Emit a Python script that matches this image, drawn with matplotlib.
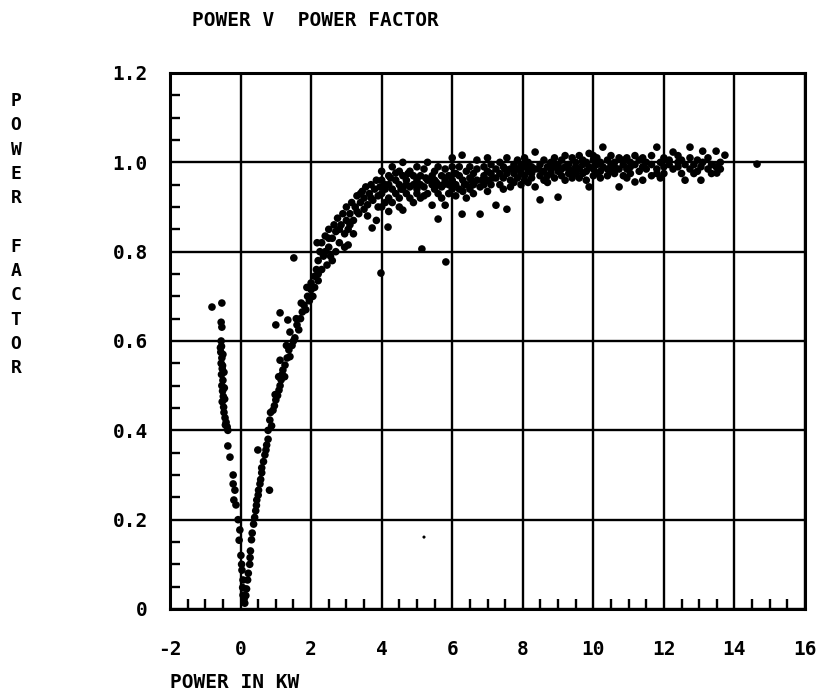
import matplotlib
matplotlib.use("Agg")
import matplotlib.pyplot as plt
from matplotlib.ticker import MultipleLocator

# left branch (negative power, falling power factor)
left_x = [-0.81, -0.53, -0.55, -0.53,
          -0.55, -0.54, -0.56, -0.53, -0.55, -0.52, -0.54, -0.50, -0.53, -0.51,
          -0.49, -0.52, -0.48, -0.47, -0.44, -0.41, -0.38, -0.43, -0.36, -0.50,
          -0.47, -0.45, -0.57, -0.51, -0.46,
          -0.36, -0.30, -0.21, -0.21, -0.16, -0.19, -0.13, -0.07, -0.02, -0.04,
          0.01, 0.03, 0.04, 0.07, 0.06, 0.07, 0.12, 0.10]
left_y = [0.676, 0.685, 0.642, 0.631,
          0.600, 0.588, 0.575, 0.562, 0.550, 0.538, 0.525, 0.512, 0.500, 0.488,
          0.476, 0.464, 0.452, 0.440, 0.428, 0.418, 0.408, 0.412, 0.400, 0.570,
          0.530, 0.470, 0.585, 0.545, 0.495,
          0.365, 0.340, 0.300, 0.280, 0.266, 0.244, 0.233, 0.200, 0.177, 0.154,
          0.120, 0.100, 0.087, 0.065, 0.048, 0.031, 0.013, 0.022]

# rising branch 0 - 2 kW
rise_x = [0.15, 0.17, 0.20, 0.22, 0.26, 0.27, 0.28, 0.31, 0.33, 0.37, 0.40,
          0.43, 0.45, 0.46, 0.50, 0.51, 0.55, 0.57, 0.60, 0.60, 0.65, 0.69,
          0.72, 0.74, 0.49, 0.82, 0.78, 0.78, 0.83, 0.88, 0.92, 0.96, 1.00,
          1.05, 1.09, 1.12, 1.15, 1.18, 1.20, 1.26, 1.32, 1.37, 1.46, 1.54,
          1.12, 1.25, 1.40, 0.85, 0.98, 1.08, 1.30, 1.50,
          1.12, 1.00, 1.34, 1.40, 1.60, 1.65, 1.70, 1.75, 1.80, 1.85, 1.90,
          1.95, 2.00, 1.51, 1.58, 1.72, 1.88]
rise_y = [0.030, 0.045, 0.065, 0.080, 0.100, 0.115, 0.130, 0.155, 0.170,
          0.190, 0.205, 0.220, 0.232, 0.244, 0.255, 0.266, 0.280, 0.290,
          0.305, 0.316, 0.330, 0.345, 0.356, 0.367, 0.356, 0.266, 0.380,
          0.400, 0.423, 0.410, 0.445, 0.455, 0.468, 0.478, 0.490, 0.500,
          0.513, 0.525, 0.535, 0.546, 0.562, 0.580, 0.590, 0.607, 0.557,
          0.520, 0.565, 0.440, 0.480, 0.520, 0.590, 0.600,
          0.663, 0.636, 0.647, 0.620, 0.636, 0.625, 0.650, 0.665, 0.680,
          0.670, 0.700, 0.690, 0.715, 0.786, 0.650, 0.685, 0.720]

# knee 2 - 4 kW
knee_x = [2.00, 2.05, 2.10, 2.10, 2.15, 2.20, 2.20, 2.17, 2.25, 2.30, 2.30,
          2.35, 2.40, 2.45, 2.50, 2.50, 2.55, 2.60, 2.65, 2.70, 2.70, 2.75,
          2.80, 2.85, 2.90, 2.95, 3.00, 3.00, 3.05, 3.10, 3.15, 3.20, 3.25,
          3.30, 3.35, 3.40, 3.45, 3.50, 3.50, 3.55, 3.60, 3.65, 3.70, 3.75,
          3.80, 3.85, 3.90, 3.95, 2.95, 3.20, 3.98, 4.18, 3.85, 3.05, 3.73,
          2.40, 2.60, 2.80, 3.10, 3.30, 3.60, 3.90, 2.20, 2.50, 3.40, 3.70]
knee_y = [0.730, 0.700, 0.745, 0.720, 0.760, 0.735, 0.780, 0.820, 0.800,
          0.760, 0.820, 0.790, 0.835, 0.770, 0.810, 0.850, 0.790, 0.830,
          0.860, 0.800, 0.845, 0.875, 0.820, 0.860, 0.885, 0.840, 0.870,
          0.900, 0.850, 0.885, 0.910, 0.870, 0.900, 0.925, 0.885, 0.910,
          0.935, 0.895, 0.920, 0.945, 0.905, 0.930, 0.950, 0.915, 0.940,
          0.960, 0.925, 0.945, 0.810, 0.840, 0.752, 0.855, 0.870, 0.815,
          0.853, 0.800, 0.780, 0.850, 0.860, 0.890, 0.880, 0.900, 0.750,
          0.830, 0.930, 0.920]

# plateau 4 - 15 kW: power value -> power factors read at that power
plateau = {
    4.0: [0.93, 0.96, 0.90, 0.98], 4.1: [0.95, 0.91, 0.94],
    4.2: [0.97, 0.92, 0.89, 0.95], 4.25: [0.965], 4.3: [0.94, 0.99, 0.91],
    4.4: [0.96, 0.93, 0.976], 4.5: [0.95, 0.92, 0.98, 0.90],
    4.55: [0.94], 4.6: [0.97, 0.94, 0.893, 1.00], 4.7: [0.93, 0.96, 0.95],
    4.75: [0.975], 4.8: [0.98, 0.92, 0.945], 4.9: [0.95, 0.97, 0.91],
    5.0: [0.96, 0.93, 0.99, 0.94], 5.05: [0.95], 5.1: [0.97, 0.92, 0.95],
    5.14: [0.806], 5.2: [0.945, 0.985, 0.925], 5.25: [0.965],
    5.3: [0.96, 0.93, 1.0], 5.43: [0.904, 0.95, 0.97],
    5.5: [0.94, 0.98, 0.96], 5.55: [0.955], 5.6: [0.95, 0.93, 0.99, 0.873],
    5.7: [0.97, 0.945, 0.92], 5.75: [0.95], 5.8: [0.904, 0.96, 0.985],
    5.82: [0.777], 5.9: [0.95, 0.93, 0.97],
    6.0: [0.96, 0.99, 0.94, 1.01], 6.05: [0.975], 6.1: [0.95, 0.975, 0.925],
    6.2: [0.97, 0.94, 0.99], 6.28: [1.016, 0.884], 6.3: [0.96, 0.935],
    6.35: [0.95], 6.4: [0.98, 0.95, 0.92], 6.5: [0.965, 0.99, 0.94],
    6.55: [0.96], 6.6: [0.95, 0.975, 0.93], 6.7: [0.985, 0.96, 1.005],
    6.79: [0.884, 0.945], 6.85: [0.96], 6.9: [0.97, 0.95, 0.99],
    7.0: [0.96, 0.98, 0.935, 1.01], 7.1: [0.975, 0.95, 0.995],
    7.15: [0.965], 7.24: [0.904, 0.965, 0.985], 7.35: [0.95, 0.975, 1.0],
    7.45: [0.965, 0.94, 0.99], 7.5: [0.985], 7.55: [0.895, 0.975, 1.01],
    7.65: [0.96, 0.985, 0.945], 7.75: [0.975, 0.995, 0.955],
    7.85: [0.965, 0.985, 1.005], 7.9: [0.985], 7.95: [0.95, 0.975, 0.995],
    8.05: [0.97, 0.99, 0.96, 1.01], 8.15: [0.98, 0.955, 1.0],
    8.25: [0.965, 0.99, 0.975], 8.35: [1.023, 0.945, 0.985],
    8.45: [0.985], 8.49: [0.916, 0.97, 0.995], 8.6: [0.98, 0.96, 1.005],
    8.7: [0.99, 0.97, 0.955], 8.8: [0.975, 1.0, 0.985],
    8.9: [0.965, 0.99, 1.01], 8.95: [0.99], 9.0: [0.922, 0.98, 0.995],
    9.1: [0.97, 1.005, 0.985], 9.2: [0.99, 0.96, 1.015],
    9.3: [0.975, 0.995, 0.985], 9.4: [0.98, 1.01, 0.965],
    9.5: [0.99, 0.975, 1.0], 9.6: [0.985, 1.015, 0.965],
    9.7: [0.995, 0.975, 1.005], 9.8: [0.98, 1.0, 0.96],
    9.88: [0.945, 0.99, 1.02], 10.0: [0.985, 1.005, 0.97, 1.015],
    10.1: [0.995, 0.975, 1.01], 10.2: [0.98, 1.0, 0.965],
    10.27: [1.034, 0.99], 10.4: [0.985, 1.005, 0.97],
    10.5: [0.995, 1.015, 0.98], 10.6: [0.975, 1.0, 0.99],
    10.73: [0.945, 0.985, 1.01], 10.85: [0.995, 0.97, 1.005],
    10.95: [0.985, 1.01, 0.965], 11.05: [0.99, 1.0, 0.975],
    11.18: [0.956, 0.995, 1.015], 11.3: [0.98, 1.005],
    11.4: [0.96, 0.99, 1.01], 11.5: [0.985, 1.0],
    11.65: [0.97, 0.995, 1.015], 11.8: [1.034, 0.985, 0.975],
    11.9: [1.0, 0.965], 12.0: [0.99, 1.01, 0.975],
    12.15: [0.995, 1.005], 12.26: [1.023, 0.985],
    12.4: [1.0, 0.99, 1.015], 12.5: [0.975, 1.005],
    12.6: [0.96, 0.995], 12.74: [1.034, 1.01, 0.985],
    12.85: [0.995, 0.975], 12.95: [1.005, 0.98],
    13.05: [0.96, 0.99], 13.1: [1.025, 1.0],
    13.25: [0.985, 1.01], 13.35: [0.995, 0.975],
    13.48: [1.025, 0.99], 13.5: [0.976], 13.6: [1.0, 0.985],
    13.73: [1.016], 14.64: [0.996],
}

# single faint speck below the plateau
speck_x = [5.2]
speck_y = [0.161]

plat_x = [p for p, ys in plateau.items() for _ in ys]
plat_y = [v for ys in plateau.values() for v in ys]

xs = left_x + rise_x + knee_x + plat_x
ys = left_y + rise_y + knee_y + plat_y

font = {'family': 'DejaVu Sans Mono', 'weight': 'bold'}

fig = plt.figure(figsize=(8.22, 7.0), dpi=100)
ax = fig.add_axes([170/822, 1 - 609/700, 635/822, 536/700])

ax.scatter(xs, ys, s=30, c='black', edgecolors='none', zorder=3)
ax.scatter(speck_x, speck_y, s=5, c='black', edgecolors='none', zorder=3)

ax.set_xlim(-2, 16)
ax.set_ylim(0, 1.2)
ax.xaxis.set_minor_locator(MultipleLocator(0.5))
ax.yaxis.set_minor_locator(MultipleLocator(0.05))
ax.set_xticks([-2, 0, 2, 4, 6, 8, 10, 12, 14, 16])
ax.set_xticklabels(['-2', '0', '2', '4', '6', '8', '10', '12', '14', '16'])
ax.set_yticks([0, 0.2, 0.4, 0.6, 0.8, 1.0, 1.2])
ax.set_yticklabels(['0', '0.2', '0.4', '0.6', '0.8', '1.0', '1.2'])

ax.grid(True, which='major', color='black', linewidth=1.7)
ax.tick_params(which='major', length=0, labelsize=14, pad=22)
ax.tick_params(axis='y', which='major', pad=16)
ax.tick_params(which='minor', direction='in', length=7, width=1.7,
               top=False, right=False)
for lab in ax.get_xticklabels() + ax.get_yticklabels():
    lab.set_fontfamily('DejaVu Sans Mono')
    lab.set_fontweight('bold')
for sp in ax.spines.values():
    sp.set_linewidth(2.2)

fig.text(192/822, 1 - 20/700, 'POWER V  POWER FACTOR', fontsize=14,
         va='center', ha='left', **font)
fig.text(170/822, 1 - 683/700, 'POWER IN KW', fontsize=14,
         va='center', ha='left', **font)
fig.text(16/822, 1 - 92/700, 'P\nO\nW\nE\nR\n\nF\nA\nC\nT\nO\nR',
         fontsize=13, va='top', ha='center', linespacing=1.45, **font)

fig.savefig('out.png', dpi=100)
